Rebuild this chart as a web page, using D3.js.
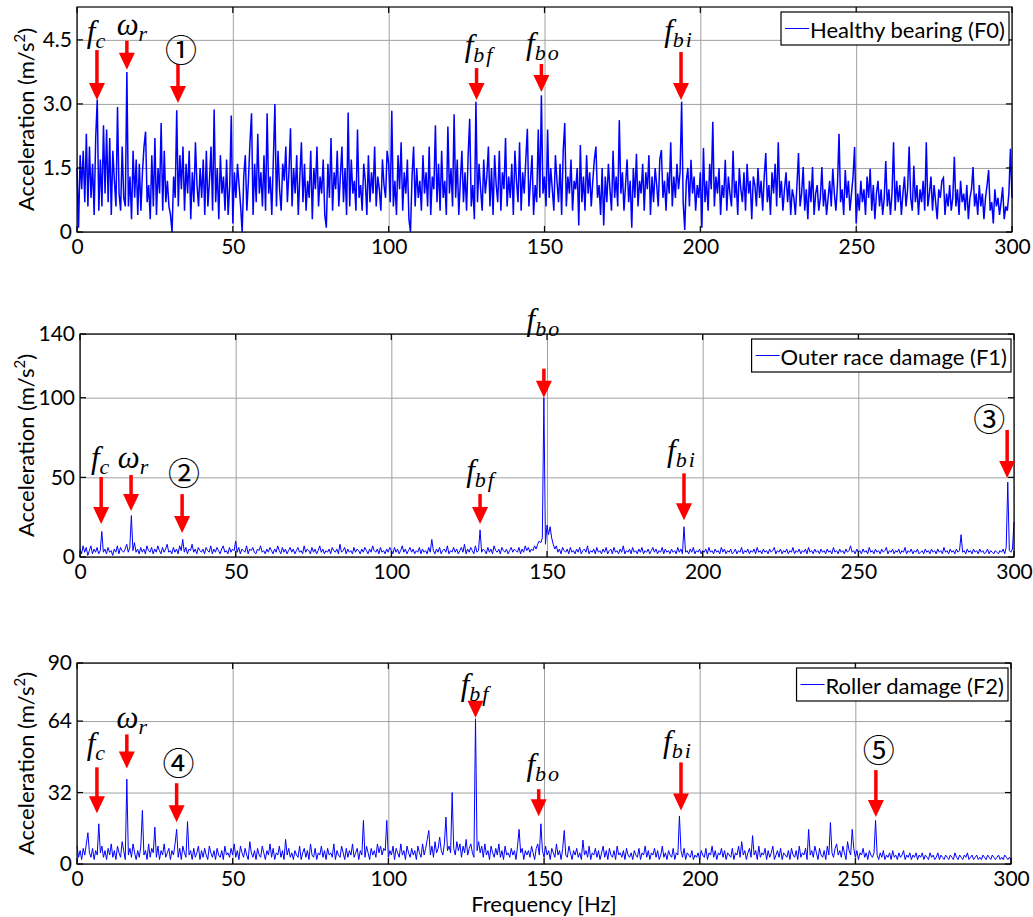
<!DOCTYPE html>
<html>
<head>
<meta charset="utf-8">
<script src="https://cdn.jsdelivr.net/npm/d3@7"></script>
<style>
  body { margin: 0; background: #fff; }
  svg { display: block; }
  .tick text { font-family: Lato, "Open Sans", sans-serif; font-size: 21px; fill: #000; }
  .grid line { stroke: #a0a0a0; stroke-width: 1; }
  .grid .domain { display: none; }
  .label { font-family: Lato, "Open Sans", sans-serif; font-size: 22px; fill: #000; }
  .math { font-family: "Liberation Serif", "DejaVu Serif", serif; font-style: italic; fill: #000; }
  .circ { font-family: "Noto Sans CJK JP", "DejaVu Sans", sans-serif; fill: #000; }
</style>
</head>
<body>
<svg id="chart" width="1033" height="917"></svg>
<script>
// frequency resolution of the spectra (Hz per sample), 0..300 Hz
const step = 0.5;
const xTicks = [0, 50, 100, 150, 200, 250, 300];

// Healthy bearing (F0)
const specF0 = [
  1.5,0.1,1.8,1.0,1.9,0.7,2.3,0.6,2.0,0.8,1.6,0.4,2.2,3.1,0.5,1.7,0.6,2.5,0.9,2.4,
  0.7,2.2,0.4,1.9,1.2,0.6,2.93,0.9,0.5,2.0,0.8,0.6,3.75,0.6,1.3,0.3,1.9,0.8,1.7,0.4,
  1.6,0.5,1.4,2.0,2.35,0.7,1.1,0.3,1.8,0.6,2.2,0.4,1.5,0.9,2.55,0.5,1.9,0.7,1.2,0.6,
  0.4,0.0,1.3,0.8,2.85,0.6,1.8,1.0,2.0,0.5,1.6,0.9,1.9,0.3,1.4,0.7,2.1,1.1,0.6,1.5,
  0.8,1.7,0.4,1.9,0.6,1.2,2.0,0.5,2.87,0.7,1.5,0.3,1.8,0.9,1.3,0.5,1.7,0.4,1.1,2.73,
  0.2,1.4,0.8,1.6,1.1,0.6,0.0,1.3,1.8,0.5,1.2,2.1,2.78,0.4,1.6,0.7,2.3,0.9,1.4,0.6,
  1.8,0.5,2.78,0.9,1.3,0.4,1.7,3.0,0.6,1.9,1.0,0.5,1.6,1.2,2.0,0.7,1.4,2.43,0.6,1.5,
  0.9,1.8,0.4,1.3,2.1,0.7,1.6,0.5,1.2,0.8,1.9,0.3,1.5,1.0,2.0,0.6,1.3,0.9,1.7,0.4,
  0.1,1.6,0.8,2.2,0.5,1.4,1.0,1.9,0.6,1.3,2.0,0.7,1.5,0.4,2.8,0.6,1.7,0.9,1.2,0.5,
  2.4,0.8,1.1,0.5,1.6,1.2,0.4,1.8,0.7,1.4,0.9,2.0,0.6,1.3,1.0,0.5,1.7,1.1,0.8,1.9,
  1.6,0.7,2.84,0.6,1.2,0.4,1.8,1.0,2.1,0.5,1.4,0.9,1.7,0.3,0.0,1.3,2.0,0.6,1.5,0.8,
  1.2,0.5,1.8,0.9,1.4,0.6,2.0,0.4,1.3,1.0,2.5,0.7,1.6,0.5,1.9,0.8,1.2,0.4,2.47,0.9,
  1.5,0.6,2.76,0.8,1.7,0.4,1.2,1.9,0.7,1.4,0.5,1.8,2.65,0.6,1.1,0.3,3.05,0.7,1.6,1.0,
  0.5,1.7,0.9,1.3,2.0,0.6,1.5,0.4,1.8,1.1,0.7,1.9,0.5,1.4,1.0,2.2,0.6,1.3,0.8,1.6,
  0.4,1.9,1.2,0.7,2.1,0.5,1.4,0.9,1.7,2.42,0.6,1.2,1.8,0.4,1.1,0.7,2.4,0.8,3.2,0.9,
  1.3,0.6,2.4,0.8,1.5,1.0,0.5,1.8,1.2,0.7,1.6,0.4,1.9,2.55,0.6,1.3,0.9,1.7,0.5,1.2,
  1.0,1.5,0.15,2.04,0.7,1.3,0.5,1.8,0.9,1.4,0.6,1.2,1.7,2.0,0.8,1.1,0.4,1.5,0.15,1.3,
  0.7,1.6,1.0,0.5,1.9,0.8,1.3,0.6,2.62,0.9,1.4,0.5,1.1,1.7,0.7,1.2,0.1,1.5,0.8,1.83,
  0.6,1.2,0.9,1.6,0.5,1.4,1.0,1.8,0.4,1.3,0.7,1.5,1.1,0.6,1.7,1.92,0.8,1.2,0.5,1.4,
  0.9,2.1,0.6,1.3,0.8,1.6,1.0,1.4,3.05,0.7,0.05,1.2,1.5,0.6,1.69,0.9,1.3,0.5,1.1,0.8,
  1.4,0.1,1.97,0.7,1.2,0.5,1.6,1.0,2.58,0.6,1.3,0.9,1.5,0.4,1.1,0.8,1.69,0.5,1.3,0.9,
  0.6,1.9,0.8,1.2,0.4,1.5,1.0,0.7,1.4,0.5,1.6,0.9,1.2,0.3,1.3,1.1,0.6,1.5,0.8,1.2,
  0.5,1.3,1.85,0.7,1.1,0.4,1.4,0.9,1.6,0.6,2.1,0.8,1.2,0.5,1.0,1.4,0.7,1.2,0.4,1.0,
  0.8,0.4,1.1,1.85,0.6,0.9,1.52,0.5,1.0,0.3,1.2,0.7,1.52,0.4,0.9,1.1,0.5,0.8,1.52,0.6,
  1.0,0.4,0.8,1.2,0.6,1.48,0.9,0.5,1.1,2.3,0.7,1.0,0.4,1.45,0.8,1.2,0.5,0.9,1.3,1.99,
  0.2,0.9,0.5,1.2,0.7,1.0,0.4,1.3,0.8,1.48,0.5,1.1,0.3,0.9,1.2,0.6,1.0,0.4,0.8,1.66,
  0.6,1.0,0.4,0.9,2.1,0.5,1.2,0.7,1.1,0.4,0.9,1.3,0.6,1.0,2.0,0.8,0.5,1.55,0.7,1.1,
  0.4,1.0,0.7,1.2,0.5,2.1,0.6,0.9,1.3,0.5,1.1,0.7,0.3,1.0,0.8,1.2,1.27,0.4,0.9,0.6,
  1.1,0.5,0.8,1.76,0.6,1.0,0.4,1.2,0.7,0.9,0.5,1.1,0.3,0.8,1.0,1.52,0.6,0.9,0.4,1.1,
  0.6,0.9,0.3,0.8,1.1,1.45,0.5,0.7,0.2,1.0,0.6,0.8,0.4,0.7,1.05,0.3,0.6,0.5,0.9,1.95,
  0.8
];

// Outer race damage (F1)
const specF1 = [
  5,2,7,3,6,1,4,7,2,5,3,6,2,4,16,3,5,2,6,3,
  4,1,5,3,7,2,6,4,3,5,8,3,6,26,4,9,3,5,2,6,
  3,5,2,7,4,3,6,2,5,3,7,4,2,6,3,5,8,3,4,2,
  6,3,5,2,7,4,11,3,6,2,5,4,8,3,5,2,6,4,3,5,
  2,6,4,3,7,2,5,3,6,4,2,5,7,3,4,2,6,3,5,4,
  10,3,6,2,5,4,3,7,2,5,4,6,3,2,5,4,7,3,4,2,
  5,3,6,4,2,5,3,7,4,2,6,3,5,2,4,6,3,5,2,4,
  6,3,4,2,7,3,5,4,2,6,3,5,2,4,7,3,5,2,4,3,
  5,2,6,4,3,5,2,8,3,4,6,2,5,3,4,2,6,3,5,4,
  2,5,3,6,4,2,5,3,7,4,3,5,2,6,3,4,2,5,3,6,
  4,2,6,3,5,2,4,7,3,5,2,4,6,3,5,2,4,3,6,2,
  5,3,4,2,6,3,11,4,2,5,3,6,2,4,5,3,7,2,4,3,
  6,3,5,2,4,6,3,8,2,5,3,6,4,2,7,3,4,17,3,5,
  4,2,6,3,5,2,7,4,3,5,2,6,4,3,5,2,4,6,3,5,
  4,3,6,2,5,3,7,4,6,3,5,4,7,5,8,10,9,12,100,8,
  20,14,19,12,8,5,7,3,5,2,6,4,3,5,2,6,3,4,2,5,
  3,6,2,4,5,3,7,2,4,3,5,2,6,3,4,2,5,3,6,2,
  4,5,2,6,3,4,2,5,3,7,2,4,3,5,2,6,3,4,2,5,
  3,6,2,4,3,5,2,4,6,3,5,2,4,3,6,2,5,3,4,2,
  5,3,4,2,6,3,5,2,19,3,4,2,5,3,6,2,4,3,5,2,
  4,3,5,2,6,3,4,2,5,3,4,2,6,3,5,2,4,3,5,2,
  3,5,2,4,3,6,2,4,3,5,2,4,3,5,2,6,3,4,2,5,
  3,4,2,5,3,4,6,2,4,3,5,2,4,3,5,2,4,3,6,2,
  4,3,5,2,4,3,5,2,6,3,4,2,5,3,4,2,5,3,4,2,
  5,3,4,2,6,3,4,2,5,3,4,2,5,3,4,7,3,4,2,5,
  3,4,2,5,3,4,2,6,3,4,2,5,3,4,2,5,3,4,6,2,
  4,3,5,2,4,3,5,2,4,3,6,2,4,3,5,2,4,3,5,2,
  3,4,2,5,3,4,2,5,3,4,2,5,3,4,2,6,3,4,2,5,
  3,4,2,5,3,4,14,3,4,2,5,3,4,2,5,3,4,2,5,3,
  4,2,3,5,2,4,3,2,4,3,2,4,3,5,2,6,47,4,3,5,
  22
];

// Roller damage (F2)
const specF2 = [
  8,3,6,2,7,4,9,14,5,3,7,2,6,4,18,5,8,3,6,2,
  7,4,9,3,6,2,8,5,3,10,6,2,38,4,7,3,9,5,2,6,
  3,8,24,4,6,2,9,3,7,5,16.5,3,8,2,6,4,9,3,5,7,
  2,6,4,9,15.5,3,7,2,8,5,3,19,4,6,2,7,3,5,8,2,
  6,3,7,4,2,8,5,3,6,2,7,4,3,6,2,8,4,5,3,7,
  4,9,3,6,2,8,5,3,7,4,2,10,5,3,6,2,7,4,3,8,
  5,2,6,4,9,3,7,2,5,4,8,3,6,2,11,4,7,3,5,2,
  6,4,3,8,2,5,7,3,6,2,9,4,3,7,2,5,4,8,3,6,
  2,7,4,5,3,9,2,6,4,3,8,5,2,7,3,6,4,9,3,5,
  7,2,6,4,19.5,3,8,5,2,7,4,6,3,9,5,8,4,7,6,19.5,
  3,6,4,8,2,7,5,3,9,4,6,2,8,5,3,7,4,6,2,8,
  5,3,9,4,7,11,15,4,8,3,10,5,7,12,6,4,9,21,6,8,
  5,32,7,4,10,6,9,3,8,5,11,4,7,9,5,3,65,6,10,5,
  8,3,9,4,6,2,8,5,3,7,4,9,3,6,2,8,4,5,3,7,
  4,6,2,8,15.5,5,7,2,6,4,6,3,8,5,2,7,9,4,18,6,
  3,8,4,6,2,7,5,3,9,4,6,2,7,15,4,3,8,5,2,6,
  4,7,3,5,2,10.7,4,6,3,8,2,5,4,7,3,6,2,5,8,3,
  6,2,7,4,3,6,2,8,4,5,3,6,2,7,4,3,5,2,6,4,
  3,7,2,5,4,8,3,6,2,5,4,7,3,6,2,4,8,3,5,2,
  6,4,3,7,2,5,4,21.5,6,3,7,2,5,4,3,6,2,4,3,5,
  2,6,4,3,7,2,5,4,8,3,6,2,5,4,7,3,6,2,5,4,
  3,7,2,5,4,8,3,10,4,6,2,5,7,3,12.7,4,6,2,8,3,
  5,4,7,2,6,3,5,8,2,4,6,3,7,2,5,4,3,6,2,7,
  4,3,6,2,8,3,5,4,7,2,15.5,4,6,3,8,5,2,7,4,3,
  6,2,8,4,18.6,5,3,7,9,4,6,3,8,5,2,10,6,4,15.5,7,
  3,6,2,5,4,7,3,5,2,6,4,3,5,19.5,4,2,5,3,6,2,
  4,3,5,2,6,3,4,2,5,3,4,6,2,4,3,5,2,4,3,5,
  2,4,3,5,2,4,3,2,5,3,4,2,3,5,2,4,3,2,4,3,
  2,4,3,2,5,3,2,4,3,2,4,3,5,2,3,4,2,3,4,2,
  3,2,4,3,2,4,3,2,4,3,2,3,4,2,3,2,4,3,2,3,
  2
];

const yTicksF0 = [0, 1.5, 3.0, 4.5];
const yTicksF1 = [0, 50, 100, 140];
const yTicksF2 = [0, 32, 64, 90];

// annotations: f = frequency of the arrow, tip = arrow tip (in y units)
const annF0 = [
  { f: 6.4,   tip: 3.09, len: 50, gap: 8,  dx: 0,  sym: "f", sub: "c" },
  { f: 16,    tip: 3.80, len: 29, gap: 6,  dx: 6,  sym: "ω", sub: "r" },
  { f: 32.4,  tip: 3.02, len: 39, gap: 2,  dx: 3,  circ: "①" },
  { f: 128.2, tip: 3.09, len: 32, gap: 12, dx: 3,  sym: "f", sub: "bf" },
  { f: 149,   tip: 3.28, len: 28, gap: 10, dx: 2,  sym: "f", sub: "bo" },
  { f: 193.8, tip: 3.09, len: 48, gap: 11, dx: -2, sym: "f", sub: "bi" }
];
const annF1 = [
  { f: 6.8,   tip: 20.7, len: 47, gap: 9,  dx: 0,   sym: "f", sub: "c" },
  { f: 16.4,  tip: 28.9, len: 36, gap: 7,  dx: 3,   sym: "ω", sub: "r" },
  { f: 32.8,  tip: 15,   len: 39, gap: 9,  dx: 2,   circ: "②" },
  { f: 128.5, tip: 20.7, len: 30, gap: 13, dx: 1,   sym: "f", sub: "bf" },
  { f: 149,   tip: 100,  len: 29, gap: 39, dx: 0,   sym: "f", sub: "bo" },
  { f: 194,   tip: 23,   len: 47, gap: 12, dx: -2,  sym: "f", sub: "bi" },
  { f: 297.8, tip: 49.6, len: 48, gap: -1, dx: -18, circ: "③" }
];
const annF2 = [
  { f: 6.4,   tip: 22.7, len: 46, gap: 13, dx: 0,  sym: "f", sub: "c" },
  { f: 16,    tip: 42.8, len: 34, gap: 6,  dx: 6,  sym: "ω", sub: "r" },
  { f: 32,    tip: 18.7, len: 39, gap: 8,  dx: 2,  circ: "④" },
  { f: 128,   tip: 65.5, len: 17, gap: 6,  dx: 0,  sym: "f", sub: "bf" },
  { f: 148.3, tip: 21.4, len: 27, gap: 14, dx: 5,  sym: "f", sub: "bo" },
  { f: 194,   tip: 24,   len: 48, gap: 10, dx: -3, sym: "f", sub: "bi" },
  { f: 256.6, tip: 21,   len: 47, gap: 8,  dx: 3,  circ: "⑤" }
];

const panels = [
  { data: specF0, name: "Healthy bearing (F0)", yMax: 5.27, yTicks: yTicksF0, fmt: d => d === 0 ? "0" : d.toFixed(1),
    ann: annF0, left: 77, right: 1012, top: 7, bottom: 232, lw: 1.5 },
  { data: specF1, name: "Outer race damage (F1)", yMax: 140, yTicks: yTicksF1, fmt: d => d,
    ann: annF1, left: 80, right: 1014, top: 334, bottom: 557, lw: 1 },
  { data: specF2, name: "Roller damage (F2)", yMax: 90, yTicks: yTicksF2, fmt: d => d,
    ann: annF2, left: 77, right: 1011, top: 663, bottom: 864, lw: 1 }
];

const svg = d3.select("#chart");

panels.forEach(p => {
  const w = p.right - p.left, h = p.bottom - p.top;
  const x = d3.scaleLinear().domain([0, 300]).range([0, w]);
  const y = d3.scaleLinear().domain([0, p.yMax]).range([h, 0]);
  const g = svg.append("g").attr("transform", `translate(${p.left},${p.top})`);

  // grid
  g.append("g").attr("class", "grid").attr("transform", `translate(0,${h})`)
    .call(d3.axisBottom(x).tickValues(xTicks).tickSize(-h).tickFormat(""));
  g.append("g").attr("class", "grid")
    .call(d3.axisLeft(y).tickValues(p.yTicks).tickSize(-w).tickFormat(""));

  // spectrum
  const line = d3.line().x((d, i) => x(i * step)).y(d => y(d));
  g.append("path").datum(p.data)
    .attr("fill", "none").attr("stroke", "#0000ff")
    .attr("stroke-width", p.lw).attr("stroke-linejoin", "miter")
    .attr("d", line);

  // box + inward ticks
  g.append("rect").attr("width", w).attr("height", h)
    .attr("fill", "none").attr("stroke", "#000").attr("stroke-width", 1.2);
  const tk = 6;
  const tg = g.append("g").attr("stroke", "#000").attr("stroke-width", 1.2);
  xTicks.forEach(t => {
    tg.append("line").attr("x1", x(t)).attr("x2", x(t)).attr("y1", h).attr("y2", h - tk);
    tg.append("line").attr("x1", x(t)).attr("x2", x(t)).attr("y1", 0).attr("y2", tk);
  });
  p.yTicks.forEach(t => {
    tg.append("line").attr("x1", 0).attr("x2", tk).attr("y1", y(t)).attr("y2", y(t));
    tg.append("line").attr("x1", w).attr("x2", w - tk).attr("y1", y(t)).attr("y2", y(t));
  });

  // tick labels
  const xa = g.append("g").attr("transform", `translate(0,${h})`)
    .call(d3.axisBottom(x).tickValues(xTicks).tickSize(0).tickPadding(7));
  xa.select(".domain").remove();
  const ya = g.append("g")
    .call(d3.axisLeft(y).tickValues(p.yTicks).tickSize(0).tickPadding(5).tickFormat(p.fmt));
  ya.select(".domain").remove();

  // y label
  const yl = svg.append("text").attr("class", "label")
    .attr("transform", `translate(34,${p.top + h / 2}) rotate(-90)`)
    .attr("text-anchor", "middle");
  yl.append("tspan").text("Acceleration (m/s");
  yl.append("tspan").attr("font-size", 15).attr("dy", -9).text("2");
  yl.append("tspan").attr("dy", 9).text(")");

  // legend
  const lg = g.append("g");
  const lt = lg.append("text").attr("class", "label").attr("x", 0).attr("y", 0)
    .attr("dominant-baseline", "central").text(p.name);
  const tw = lt.node().getComputedTextLength();
  const bw = tw + 33, bh = 33;
  const bx = w - 3 - bw, by = 5;
  lt.attr("x", bx + 29).attr("y", by + bh / 2 + 1);
  lg.insert("rect", "text").attr("x", bx).attr("y", by).attr("width", bw).attr("height", bh)
    .attr("fill", "#fff").attr("stroke", "#000").attr("stroke-width", 1.2);
  lg.append("line").attr("x1", bx + 4).attr("x2", bx + 28)
    .attr("y1", by + bh / 2).attr("y2", by + bh / 2)
    .attr("stroke", "#0000ff").attr("stroke-width", 1);

  // annotations
  p.ann.forEach(a => {
    const ax = x(a.f), ty = y(a.tip), top = ty - a.len;
    g.append("rect").attr("x", ax - 1.75).attr("y", top).attr("width", 3.5).attr("height", a.len - 14)
      .attr("fill", "#ff0000");
    g.append("path")
      .attr("d", `M${ax - 8},${ty - 17}L${ax + 8},${ty - 17}L${ax},${ty}Z`)
      .attr("fill", "#ff0000");
    const by2 = top - a.gap;
    if (a.circ) {
      g.append("text").attr("class", "circ").attr("x", ax + a.dx).attr("y", by2)
        .attr("text-anchor", "middle").attr("font-size", 32).text(a.circ);
    } else {
      const t = g.append("text").attr("class", "math").attr("x", ax + a.dx).attr("y", by2)
        .attr("text-anchor", "middle").attr("font-size", 31);
      t.append("tspan").text(a.sym);
      t.append("tspan").attr("font-size", 22).attr("dy", 6)
        .attr("letter-spacing", 2).text(a.sub);
    }
  });
});

// x label
svg.append("text").attr("class", "label")
  .attr("x", (77 + 1011) / 2).attr("y", 912)
  .attr("text-anchor", "middle").text("Frequency [Hz]");
</script>
</body>
</html>
